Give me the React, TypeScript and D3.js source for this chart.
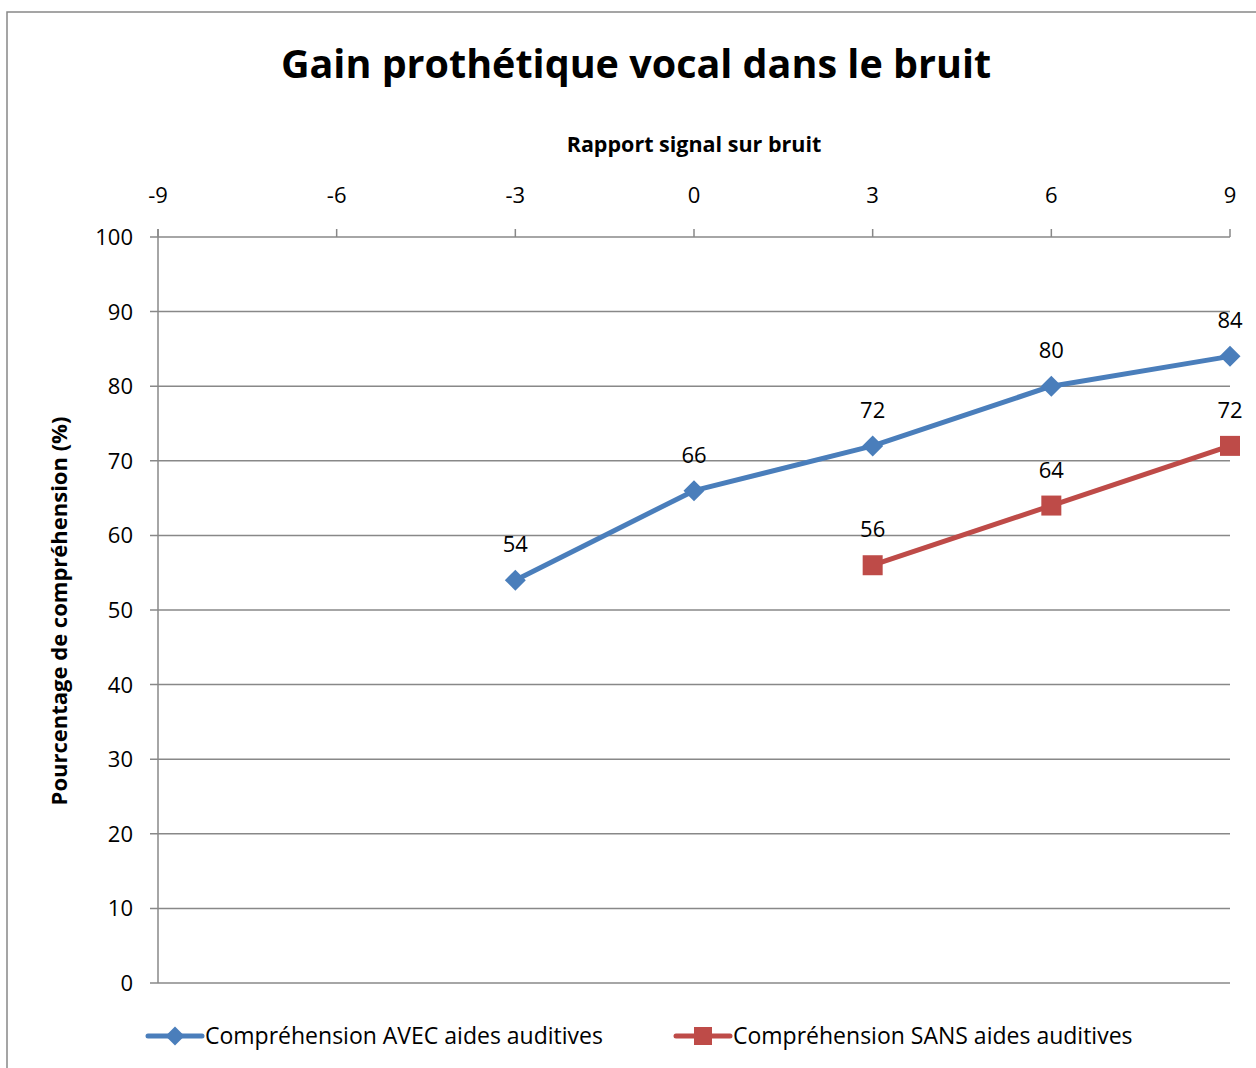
import React from "react";
import * as d3 from "d3";

const snrValues = [-3, 0, 3, 6, 9];
const avecValues = [54, 66, 72, 80, 84];
const sansSnr = [3, 6, 9];
const sansValues = [56, 64, 72];
const xTicks = [-9, -6, -3, 0, 3, 6, 9];
const yTicks = [0, 10, 20, 30, 40, 50, 60, 70, 80, 90, 100];
const seriesNames = ["Compréhension AVEC aides auditives", "Compréhension SANS aides auditives"];

const FONT = "'Open Sans', 'Noto Sans', sans-serif";
const BLUE = "#4A7EBB";
const RED = "#BE4B48";
const GRID = "#888888";

export default function App() {
  const W = 1256, H = 1068;
  const x = d3.scaleLinear().domain([-9, 9]).range([158, 1230]);
  const y = d3.scaleLinear().domain([0, 100]).range([983, 237]);
  const line = d3.line<[number, number]>().x(d => x(d[0])).y(d => y(d[1]));
  const avec: [number, number][] = snrValues.map((s, i) => [s, avecValues[i]]);
  const sans: [number, number][] = sansSnr.map((s, i) => [s, sansValues[i]]);

  const diamond = (cx: number, cy: number, r = 10.5) =>
    `M${cx},${cy - r}L${cx + r},${cy}L${cx},${cy + r}L${cx - r},${cy}Z`;

  return (
    <svg width={W} height={H} style={{ position: "absolute", left: 0, top: 0 }} fontFamily={FONT}>
      <rect x={0} y={0} width={W} height={H} fill="#fff" />
      <rect x={7} y={12} width={W + 10} height={H + 10} fill="none" stroke={GRID} strokeWidth={1.5} />
      <text x={636} y={78} textAnchor="middle" fontSize={39.5} fontWeight="bold" fill="#000">
        Gain prothétique vocal dans le bruit
      </text>
      <text x={694} y={152} textAnchor="middle" fontSize={21.5} fontWeight="bold" fill="#000">
        Rapport signal sur bruit
      </text>
      {yTicks.map(t => (
        <g key={"y" + t}>
          <line x1={150} x2={1230} y1={y(t)} y2={y(t)} stroke={GRID} strokeWidth={1.5} />
          <text x={133} y={y(t) + 8} textAnchor="end" fontSize={22} fill="#000">{t}</text>
        </g>
      ))}
      <line x1={x(-9)} x2={x(-9)} y1={229} y2={983} stroke={GRID} strokeWidth={1.5} />
      {xTicks.map(t => (
        <g key={"x" + t}>
          <line x1={x(t)} x2={x(t)} y1={229} y2={237} stroke={GRID} strokeWidth={1.5} />
          <text x={x(t)} y={203} textAnchor="middle" fontSize={22} fill="#000">{t}</text>
        </g>
      ))}
      <text transform={`translate(67,611) rotate(-90)`} textAnchor="middle" fontSize={22} fontWeight="bold" fill="#000">
        Pourcentage de compréhension (%)
      </text>
      <path d={line(avec) || ""} fill="none" stroke={BLUE} strokeWidth={5} strokeLinejoin="round" strokeLinecap="round" />
      {avec.map((d, i) => (
        <g key={"a" + i}>
          <path d={diamond(x(d[0]), y(d[1]))} fill={BLUE} />
          <text x={x(d[0])} y={y(d[1]) - 28} textAnchor="middle" fontSize={22} fill="#000">{d[1]}</text>
        </g>
      ))}
      <path d={line(sans) || ""} fill="none" stroke={RED} strokeWidth={5} strokeLinejoin="round" strokeLinecap="round" />
      {sans.map((d, i) => (
        <g key={"s" + i}>
          <rect x={x(d[0]) - 10} y={y(d[1]) - 10} width={20} height={20} fill={RED} />
          <text x={x(d[0])} y={y(d[1]) - 28} textAnchor="middle" fontSize={22} fill="#000">{d[1]}</text>
        </g>
      ))}
      <g>
        <line x1={148} x2={202} y1={1036} y2={1036} stroke={BLUE} strokeWidth={5} strokeLinecap="round" />
        <path d={diamond(175, 1036, 9.5)} fill={BLUE} />
        <text x={205} y={1044} fontSize={23} fill="#000">{seriesNames[0]}</text>
        <line x1={676} x2={730} y1={1036} y2={1036} stroke={RED} strokeWidth={5} strokeLinecap="round" />
        <rect x={694} y={1027} width={18} height={18} fill={RED} />
        <text x={733} y={1044} fontSize={23} fill="#000">{seriesNames[1]}</text>
      </g>
    </svg>
  );
}
